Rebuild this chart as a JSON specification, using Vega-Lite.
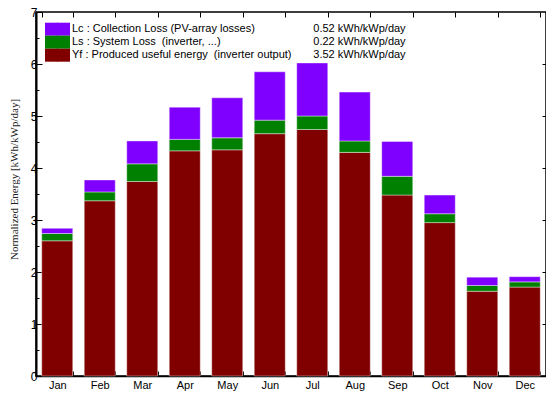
{
  "$schema": "https://vega.github.io/schema/vega-lite/v6.json",
  "width": 510,
  "height": 364,
  "autosize": {"type": "none"},
  "padding": {"left": 36, "top": 12, "right": 0, "bottom": 18},
  "background": "white",
  "config": {
    "view": {"stroke": "black", "strokeWidth": 1.5},
    "font": "Liberation Sans",
    "axis": {"domainColor": "black", "tickColor": "black", "labelColor": "black", "labelFont": "Liberation Sans", "labelFontSize": 11, "grid": false}
  },
  "datasets": {
    "bars": [
      {"month": "Jan", "series": "Yf", "k": 1, "value": 2.60},
      {"month": "Jan", "series": "Ls", "k": 2, "value": 0.14},
      {"month": "Jan", "series": "Lc", "k": 3, "value": 0.10},
      {"month": "Feb", "series": "Yf", "k": 1, "value": 3.37},
      {"month": "Feb", "series": "Ls", "k": 2, "value": 0.17},
      {"month": "Feb", "series": "Lc", "k": 3, "value": 0.23},
      {"month": "Mar", "series": "Yf", "k": 1, "value": 3.74},
      {"month": "Mar", "series": "Ls", "k": 2, "value": 0.34},
      {"month": "Mar", "series": "Lc", "k": 3, "value": 0.44},
      {"month": "Apr", "series": "Yf", "k": 1, "value": 4.33},
      {"month": "Apr", "series": "Ls", "k": 2, "value": 0.22},
      {"month": "Apr", "series": "Lc", "k": 3, "value": 0.62},
      {"month": "May", "series": "Yf", "k": 1, "value": 4.35},
      {"month": "May", "series": "Ls", "k": 2, "value": 0.23},
      {"month": "May", "series": "Lc", "k": 3, "value": 0.77},
      {"month": "Jun", "series": "Yf", "k": 1, "value": 4.66},
      {"month": "Jun", "series": "Ls", "k": 2, "value": 0.26},
      {"month": "Jun", "series": "Lc", "k": 3, "value": 0.93},
      {"month": "Jul", "series": "Yf", "k": 1, "value": 4.74},
      {"month": "Jul", "series": "Ls", "k": 2, "value": 0.26},
      {"month": "Jul", "series": "Lc", "k": 3, "value": 1.02},
      {"month": "Aug", "series": "Yf", "k": 1, "value": 4.30},
      {"month": "Aug", "series": "Ls", "k": 2, "value": 0.22},
      {"month": "Aug", "series": "Lc", "k": 3, "value": 0.94},
      {"month": "Sep", "series": "Yf", "k": 1, "value": 3.48},
      {"month": "Sep", "series": "Ls", "k": 2, "value": 0.36},
      {"month": "Sep", "series": "Lc", "k": 3, "value": 0.67},
      {"month": "Oct", "series": "Yf", "k": 1, "value": 2.95},
      {"month": "Oct", "series": "Ls", "k": 2, "value": 0.17},
      {"month": "Oct", "series": "Lc", "k": 3, "value": 0.36},
      {"month": "Nov", "series": "Yf", "k": 1, "value": 1.63},
      {"month": "Nov", "series": "Ls", "k": 2, "value": 0.11},
      {"month": "Nov", "series": "Lc", "k": 3, "value": 0.16},
      {"month": "Dec", "series": "Yf", "k": 1, "value": 1.71},
      {"month": "Dec", "series": "Ls", "k": 2, "value": 0.10},
      {"month": "Dec", "series": "Lc", "k": 3, "value": 0.10}
    ],
    "legendvals": [
      {"series": "Lc", "swatch": "Lc", "val": "0.52 kWh/kWp/day"},
      {"series": "Ls", "swatch": "Ls", "val": "0.22 kWh/kWp/day"},
      {"series": "Yf", "swatch": "Yf", "val": "3.52 kWh/kWp/day"}
    ]
  },
  "layer": [
    {
      "data": {"name": "bars"},
      "mark": {"type": "bar", "stroke": "white", "strokeWidth": 0.8, "strokeOpacity": 0.5},
      "encoding": {
        "x": {
          "field": "month", "type": "nominal",
          "sort": ["Jan", "Feb", "Mar", "Apr", "May", "Jun", "Jul", "Aug", "Sep", "Oct", "Nov", "Dec"],
          "scale": {"paddingInner": 0.27, "paddingOuter": 0.135},
          "axis": {"title": null, "orient": "bottom", "labelAngle": 0, "tickBand": "extent", "tickSize": -5, "labelPadding": 8, "domainWidth": 1.5}
        },
        "y": {
          "field": "value", "type": "quantitative", "stack": "zero",
          "scale": {"domain": [0, 7], "nice": false},
          "axis": {
            "values": [0, 0.5, 1, 1.5, 2, 2.5, 3, 3.5, 4, 4.5, 5, 5.5, 6, 6.5, 7],
            "labelExpr": "datum.value % 1 ? '' : format(datum.value, 'd')",
            "tickSize": {"condition": {"test": "datum.value % 1", "value": -3}, "value": -6},
            "labelPadding": 5,
            "labelFontSize": 12,
            "domainWidth": 2,
            "title": "Normalized Energy [kWh/kWp/day]",
            "titleFont": "Liberation Serif", "titleFontWeight": "normal", "titleFontSize": 11, "titleColor": "#222",
            "titleX": -22, "titleY": 167, "titleAlign": "center", "titleBaseline": "middle", "titleAngle": 270
          }
        },
        "color": {
          "field": "series", "type": "nominal",
          "scale": {"domain": ["Lc", "Ls", "Yf"], "range": ["#8000ff", "#008000", "#800000"]},
          "legend": {
            "orient": "none", "legendX": 9, "legendY": 10.7, "title": null, "padding": 0,
            "symbolType": "square", "symbolSize": 169, "symbolStrokeWidth": 0, "symbolOpacity": 1,
            "rowPadding": 0, "labelOffset": 14, "labelFontSize": 11, "labelFont": "Liberation Sans", "labelColor": "black", "labelLimit": 400,
            "labelExpr": "datum.value == 'Lc' ? 'Lc : Collection Loss (PV-array losses)' : datum.value == 'Ls' ? 'Ls : System Loss\u00a0 (inverter, ...)' : 'Yf : Produced useful energy\u00a0 (inverter output)'"
          }
        },
        "order": {"field": "k", "type": "quantitative"}
      }
    },
    {
      "data": {"name": "bars"},
      "mark": {"type": "bar", "opacity": 0},
      "encoding": {
        "x": {
          "field": "month", "type": "nominal",
          "sort": ["Jan", "Feb", "Mar", "Apr", "May", "Jun", "Jul", "Aug", "Sep", "Oct", "Nov", "Dec"],
          "axis": {"title": null, "orient": "top", "labels": false, "tickBand": "extent", "tickSize": -5, "domain": false}
        },
        "y": {
          "field": "value", "type": "quantitative", "stack": "zero",
          "axis": {"title": null, "orient": "right", "labels": false, "values": [1, 2, 3, 4, 5, 6], "tickSize": -4, "domain": false}
        }
      }
    },
    {
      "data": {"name": "legendvals"},
      "mark": {"type": "point", "opacity": 0},
      "encoding": {
        "shape": {
          "field": "val", "type": "nominal",
          "scale": {"domain": ["0.52 kWh/kWp/day", "0.22 kWh/kWp/day", "3.52 kWh/kWp/day"]},
          "legend": {
            "orient": "none", "legendX": 264.3, "legendY": 10.7, "title": null, "padding": 0,
            "symbolSize": 169, "symbolOpacity": 0, "symbolStrokeWidth": 0,
            "rowPadding": 0, "labelOffset": 0, "labelFontSize": 11, "labelFont": "Liberation Sans", "labelColor": "black"
          }
        }
      }
    },
    {
      "data": {"name": "legendvals"},
      "mark": {"type": "point", "shape": "square", "filled": true, "size": 0},
      "encoding": {
        "fill": {
          "field": "swatch", "type": "nominal",
          "scale": {"domain": ["Lc", "Ls", "Yf"], "range": ["#8000ff", "#008000", "#800000"]},
          "legend": {
            "orient": "none", "legendX": 21, "legendY": 10.7, "title": null, "padding": 0,
            "symbolType": "square", "symbolSize": 169, "symbolStrokeWidth": 0, "symbolOpacity": 1,
            "rowPadding": 0, "labelOffset": 0, "labelFontSize": 11, "labelExpr": "''"
          }
        }
      }
    }
  ],
  "resolve": {"axis": {"x": "independent", "y": "independent"}, "scale": {"fill": "independent"}}
}
